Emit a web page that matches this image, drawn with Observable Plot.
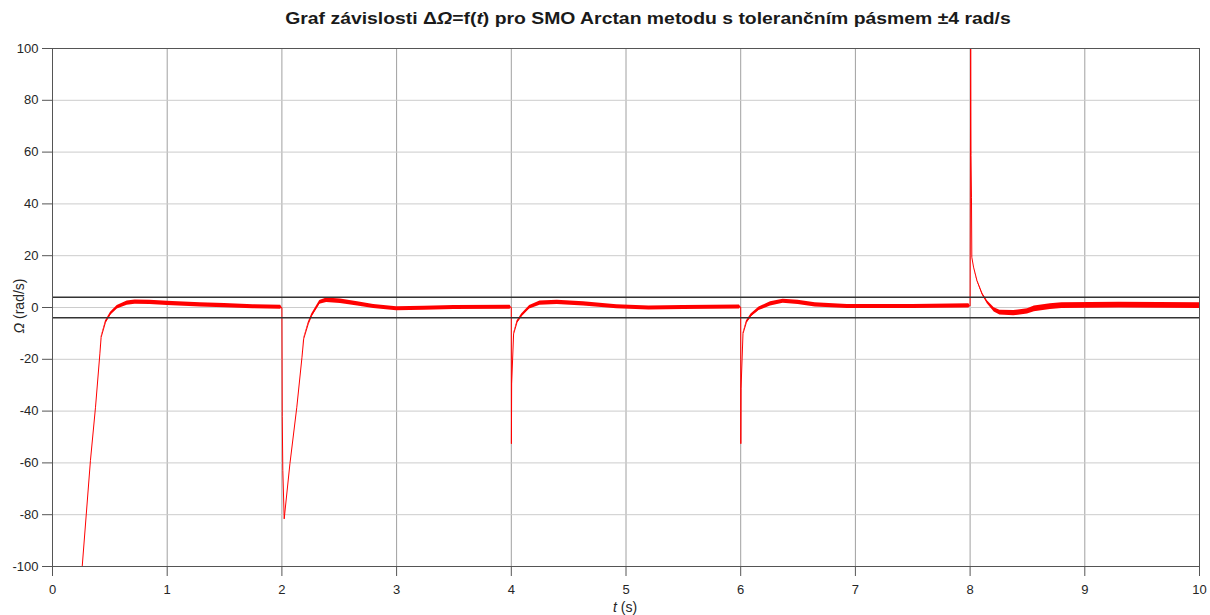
<!DOCTYPE html>
<html><head><meta charset="utf-8">
<script src="https://cdn.jsdelivr.net/npm/d3@7"></script>
<script src="https://cdn.jsdelivr.net/npm/@observablehq/plot@0.6"></script>
<style>
body{margin:0;background:#fff;font-family:Arial,"Liberation Sans",sans-serif;}
#wrap{position:relative;width:1210px;height:615px;overflow:hidden;}
#title{position:absolute;left:648px;top:9px;transform:translateX(-50%) scaleX(1.14);white-space:nowrap;font-weight:bold;font-size:17px;line-height:19px;color:#1a1a1a;}
#chart{position:absolute;left:0;top:30px;}
#chart svg text{font-size:13px !important;fill:#262626;}
#chart svg text.axlab{font-size:14px !important;}
</style></head><body>
<div id="wrap">
<div id="title">Graf závislosti Δ<i>Ω</i>=f(<i>t</i>) pro SMO Arctan metodu s tolerančním pásmem ±4 rad/s</div>
<div id="chart"></div>
</div>
<script>
// time (s)
const tVals = [
 0.259, 0.331, 0.375, 0.413, 0.424, 0.462, 0.506, 0.564, 0.651, 0.72, 0.85, 1.0, 1.29, 1.5, 1.75, 1.99,
 2.0, 2.003, 2.008, 2.02, 2.07, 2.13, 2.175, 2.19, 2.23, 2.26, 2.33, 2.39, 2.51, 2.66, 2.80, 3.0, 3.24, 3.5, 3.99,
 4.0, 4.001, 4.003, 4.02, 4.05, 4.09, 4.16, 4.25, 4.4, 4.63, 4.92, 5.2, 5.5, 5.99,
 6.0, 6.001, 6.003, 6.02, 6.05, 6.09, 6.16, 6.26, 6.37, 6.5, 6.65, 6.93, 7.5, 7.99,
 8.0, 8.005, 8.008, 8.012, 8.015, 8.03, 8.06, 8.105, 8.15, 8.21, 8.26, 8.38, 8.5, 8.56, 8.7, 8.8, 9.3, 10.0
];
// ΔΩ (rad/s)
const omegaVals = [
 -100, -59, -38.5, -17.9, -11.5, -5.7, -2.4, 0.1, 1.7, 2.1, 2.0, 1.6, 1.0, 0.7, 0.3, 0.1,
 0.0, -42, -63, -81.6, -60.3, -38.5, -19.2, -12.1, -6.3, -3.1, 2.0, 2.8, 2.4, 1.4, 0.4, -0.5, -0.3, 0.0, 0.1,
 0.1, -52.6, -29.5, -10.2, -5.7, -3.1, 0.1, 1.7, 2.0, 1.4, 0.3, -0.2, 0.0, 0.2,
 0.2, -52.6, -31.4, -10.1, -5.7, -3.1, -0.5, 1.4, 2.4, 2.0, 1.0, 0.4, 0.4, 0.6,
 0.6, 100, 58.7, 42.6, 19.4, 15.6, 10.4, 5.3, 2.0, -0.9, -2.0, -2.2, -1.5, -0.5, 0.3, 0.7, 0.9, 0.7
];
// measurement noise half-width (rad/s)
const noiseVals = [
 0, 0, 0, 0, 0.2, 0.5, 0.6, 0.7, 0.8, 0.8, 0.8, 0.8, 0.8, 0.8, 0.8, 0.8,
 0, 0, 0, 0, 0, 0, 0, 0.2, 0.5, 0.6, 0.7, 0.9, 0.9, 0.8, 0.8, 0.8, 0.8, 0.8, 0.8,
 0, 0, 0, 0.2, 0.5, 0.6, 0.7, 0.8, 0.8, 0.8, 0.8, 0.8, 0.8, 0.8,
 0, 0, 0, 0.2, 0.5, 0.6, 0.7, 0.8, 0.8, 0.8, 0.8, 0.8, 0.8, 0.8,
 0, 0, 0, 0, 0, 0, 0.2, 0.4, 0.6, 0.8, 0.9, 1.0, 1.0, 1.1, 1.1, 1.1, 1.1, 1.1
];
const tolBand = [4, -4];
const xTicks = [0,1,2,3,4,5,6,7,8,9,10];
const yTicks = [-100,-80,-60,-40,-20,0,20,40,60,80,100];

const data = tVals.map((t,i)=>({t, w: omegaVals[i], hw: noiseVals[i]}));

const plot = Plot.plot({
  width:1210, height:585,
  marginTop:18, marginBottom:49, marginLeft:52, marginRight:11,
  style:{fontFamily:'Arial, "Liberation Sans", sans-serif', color:'#262626', background:'#fff', overflow:'visible'},
  x:{domain:[0,10], label:null},
  y:{domain:[-100,100], label:null},
  marks:[
    Plot.gridX(xTicks,{stroke:"#a0a0a0", strokeOpacity:1}),
    Plot.gridY(yTicks,{stroke:"#cccccc", strokeOpacity:1}),
    Plot.areaY(data,{x:"t", y1:d=>d.w-d.hw, y2:d=>d.w+d.hw, fill:"#ff0000", clip:true}),
    Plot.line(data,{x:"t", y:"w", stroke:"#ff0000", strokeWidth:1, clip:true}),
    Plot.ruleY(tolBand,{stroke:"#333", strokeWidth:1.5}),
    Plot.frame({stroke:"#555"}),
    Plot.axisX(xTicks,{tickSize:10, tickPadding:8, label:null, stroke:"#555", tickFormat:d=>String(d)}),
    Plot.axisY(yTicks,{tickSize:10, tickPadding:4, label:null, stroke:"#555", tickFormat:d=>String(d)})
  ]
});
document.getElementById("chart").appendChild(plot);

const svg = d3.select(plot);
const ylab = svg.append("text").attr("class","axlab")
  .attr("transform","translate(19,276) rotate(-90)")
  .attr("text-anchor","middle").attr("dy","0.35em");
ylab.append("tspan").attr("font-style","italic").text("Ω");
ylab.append("tspan").text(" (rad/s)");
const xlab = svg.append("text").attr("class","axlab")
  .attr("x",625).attr("y",577).attr("dy","0.35em")
  .attr("text-anchor","middle");
xlab.append("tspan").attr("font-style","italic").text("t");
xlab.append("tspan").text(" (s)");
</script>
</body></html>
